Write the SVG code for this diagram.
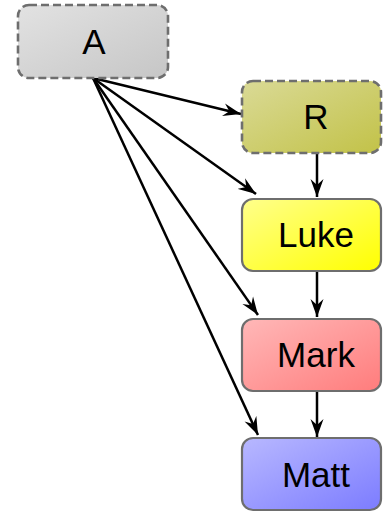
<svg xmlns="http://www.w3.org/2000/svg" width="383" height="512" viewBox="0 0 383 512">
<style>
.box{stroke:#6e6e6e;stroke-width:2.2}
.dash{stroke-dasharray:8,4;stroke-width:2.6}
.lbl{font-family:"Liberation Sans",Arial,sans-serif;font-size:35px;fill:#000;text-anchor:middle}
.edge{stroke:#000;stroke-width:2.5;fill:none;marker-end:url(#ah)}
</style>
<defs>
<marker id="ah" markerUnits="userSpaceOnUse" markerWidth="20" markerHeight="14" refX="18" refY="7" orient="auto">
<path d="M0,0.5 L18,7 L0,13.5 L6,7 z" fill="#000"/>
</marker>
<linearGradient id="gA" x1="0" y1="0" x2="1" y2="1"><stop offset="0" stop-color="#e2e2e2"/><stop offset="1" stop-color="#c6c6c6"/></linearGradient>
<linearGradient id="gR" x1="0" y1="0" x2="1" y2="1"><stop offset="0" stop-color="#dada96"/><stop offset="1" stop-color="#c2c248"/></linearGradient>
<linearGradient id="gL" x1="0" y1="0" x2="1" y2="1"><stop offset="0" stop-color="#ffff8c"/><stop offset="1" stop-color="#ffff00"/></linearGradient>
<linearGradient id="gM" x1="0" y1="0" x2="1" y2="1"><stop offset="0" stop-color="#ffb8b8"/><stop offset="1" stop-color="#ff7c7c"/></linearGradient>
<linearGradient id="gT" x1="0" y1="0" x2="1" y2="1"><stop offset="0" stop-color="#b8b8ff"/><stop offset="1" stop-color="#7c7cff"/></linearGradient>
</defs>
<g id="edges">
<line class="edge" x1="93" y1="78" x2="241" y2="114"/>
<line class="edge" x1="93" y1="78" x2="256" y2="194"/>
<line class="edge" x1="93" y1="78" x2="258" y2="315"/>
<line class="edge" x1="93" y1="78" x2="258" y2="435"/>
<line class="edge" x1="317" y1="154" x2="317" y2="197"/>
<line class="edge" x1="317" y1="272" x2="317" y2="317"/>
<line class="edge" x1="317" y1="392" x2="317" y2="437"/>
</g>
<g id="A">
<rect class="box dash" x="18" y="5" width="150" height="73" rx="11" fill="url(#gA)"/>
<text class="lbl" x="94" y="54">A</text>
</g>
<g id="R">
<rect class="box dash" x="242" y="81" width="139" height="72" rx="11" fill="url(#gR)"/>
<text class="lbl" x="316" y="129">R</text>
</g>
<g id="Luke">
<rect class="box" x="242" y="199" width="139" height="72" rx="11" fill="url(#gL)"/>
<text class="lbl" x="316" y="247">Luke</text>
</g>
<g id="Mark">
<rect class="box" x="242" y="319" width="139" height="72" rx="11" fill="url(#gM)"/>
<text class="lbl" x="316" y="367">Mark</text>
</g>
<g id="Matt">
<rect class="box" x="242" y="438" width="139" height="72" rx="11" fill="url(#gT)"/>
<text class="lbl" x="316" y="487">Matt</text>
</g>
</svg>
